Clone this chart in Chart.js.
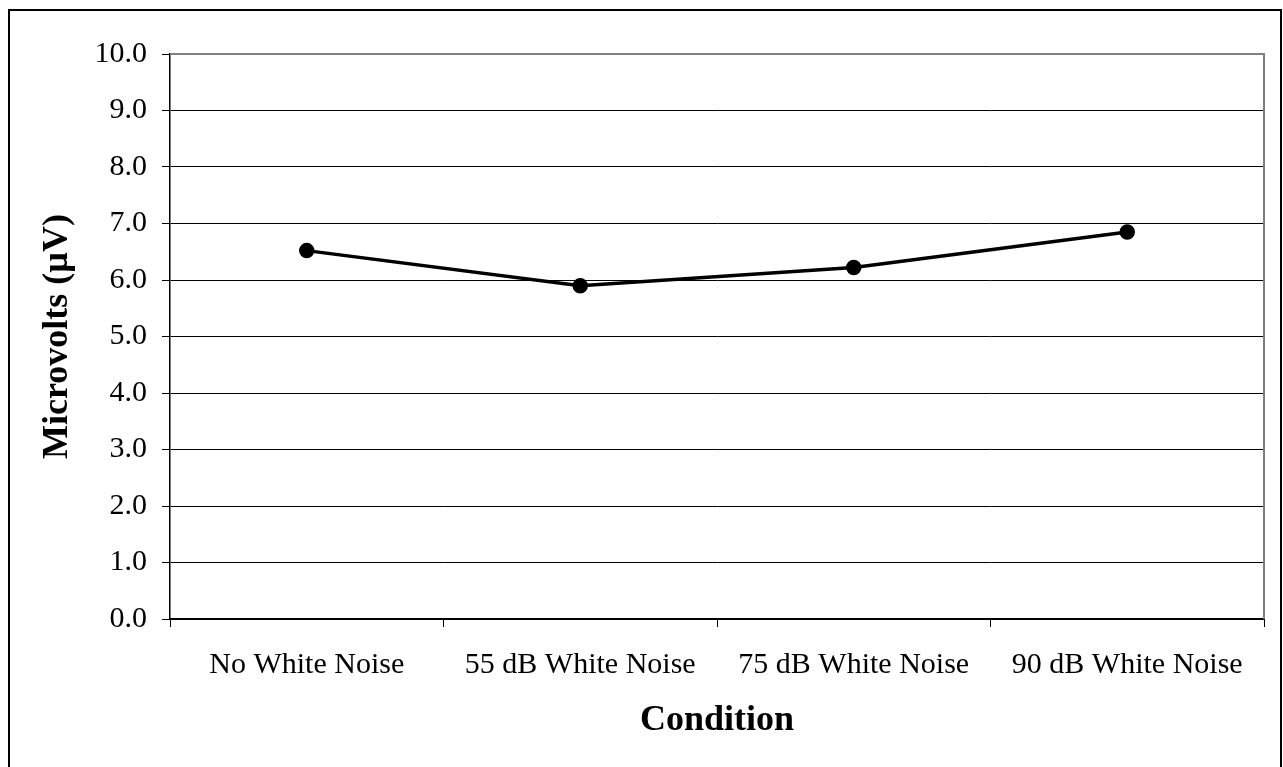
<!DOCTYPE html>
<html>
<head>
<meta charset="utf-8">
<script src="https://cdn.jsdelivr.net/npm/chart.js@4/dist/chart.umd.min.js"></script>
<style>
  html, body { margin: 0; padding: 0; background: #fff; }
  #wrap { width: 1283px; height: 767px; position: relative; }
</style>
</head>
<body>
<div id="wrap"><canvas id="c" width="1283" height="767"></canvas></div>
<script>
// Mean amplitude per listening condition
const conditions = ['No White Noise', '55 dB White Noise', '75 dB White Noise', '90 dB White Noise'];
const microvolts = [6.52, 5.90, 6.22, 6.85];
const yTicks = [0, 1, 2, 3, 4, 5, 6, 7, 8, 9, 10];

const SERIF = "'Liberation Serif', 'Times New Roman', serif";

// Outer frame and the grey plot-area outline
const framePlugin = {
  id: 'frame',
  beforeDatasetsDraw(chart) {
    const { ctx, chartArea: a } = chart;
    ctx.save();
    ctx.strokeStyle = '#808080';
    ctx.lineWidth = 2;
    ctx.beginPath();
    ctx.moveTo(a.left, a.top);
    ctx.lineTo(a.right, a.top);
    ctx.lineTo(a.right, a.bottom);
    ctx.stroke();
    ctx.restore();
  },
  afterDraw(chart) {
    const { ctx } = chart;
    ctx.save();
    ctx.strokeStyle = '#000';
    ctx.lineWidth = 2;
    ctx.beginPath();
    ctx.moveTo(9, 780);
    ctx.lineTo(9, 10);
    ctx.lineTo(1281, 10);
    ctx.lineTo(1281, 780);
    ctx.stroke();
    ctx.restore();
  }
};

new Chart(document.getElementById('c'), {
  type: 'line',
  data: {
    labels: conditions,
    datasets: [{
      data: microvolts,
      borderColor: '#000',
      borderWidth: 3.5,
      backgroundColor: '#000',
      pointBackgroundColor: '#000',
      pointBorderColor: '#000',
      pointRadius: 7,
      pointBorderWidth: 1.5,
      tension: 0,
      fill: false
    }]
  },
  options: {
    responsive: false,
    devicePixelRatio: 1,
    animation: false,
    layout: { padding: { left: 0, top: 54, right: 19, bottom: 0 } },
    plugins: {
      legend: { display: false },
      tooltip: { enabled: false }
    },
    scales: {
      x: {
        type: 'category',
        offset: true,
        grid: {
          offset: true,
          drawOnChartArea: false,
          drawTicks: true,
          tickLength: 8,
          color: '#000',
          lineWidth: 1
        },
        border: { display: true, color: '#000', width: 2 },
        ticks: {
          color: '#000',
          font: { family: SERIF, size: 30 },
          padding: 20,
          maxRotation: 0,
          autoSkip: false
        },
        title: {
          display: true,
          text: 'Condition',
          color: '#000',
          font: { family: SERIF, size: 36, weight: 'bold' },
          padding: { top: 0, bottom: 25 }
        },
        afterFit(scale) { scale.height = 148; }
      },
      y: {
        min: 0,
        max: 10,
        afterBuildTicks(scale) { scale.ticks = yTicks.map(v => ({ value: v })); },
        grid: {
          color: ctx => (ctx.tick && ctx.tick.value === 10 ? '#808080' : '#000'),
          tickColor: '#000',
          lineWidth: 1,
          tickLength: 8
        },
        border: { display: true, color: '#000', width: 1.5 },
        ticks: {
          color: '#000',
          font: { family: SERIF, size: 30 },
          padding: 15,
          callback: v => Number(v).toFixed(1)
        },
        title: {
          display: true,
          text: 'Microvolts (\u00B5V)',
          color: '#000',
          font: { family: SERIF, size: 36, weight: 'bold' },
          padding: { top: 36, bottom: 0 }
        },
        afterFit(scale) { scale.width = 170; }
      }
    }
  },
  plugins: [framePlugin]
});
</script>
</body>
</html>
